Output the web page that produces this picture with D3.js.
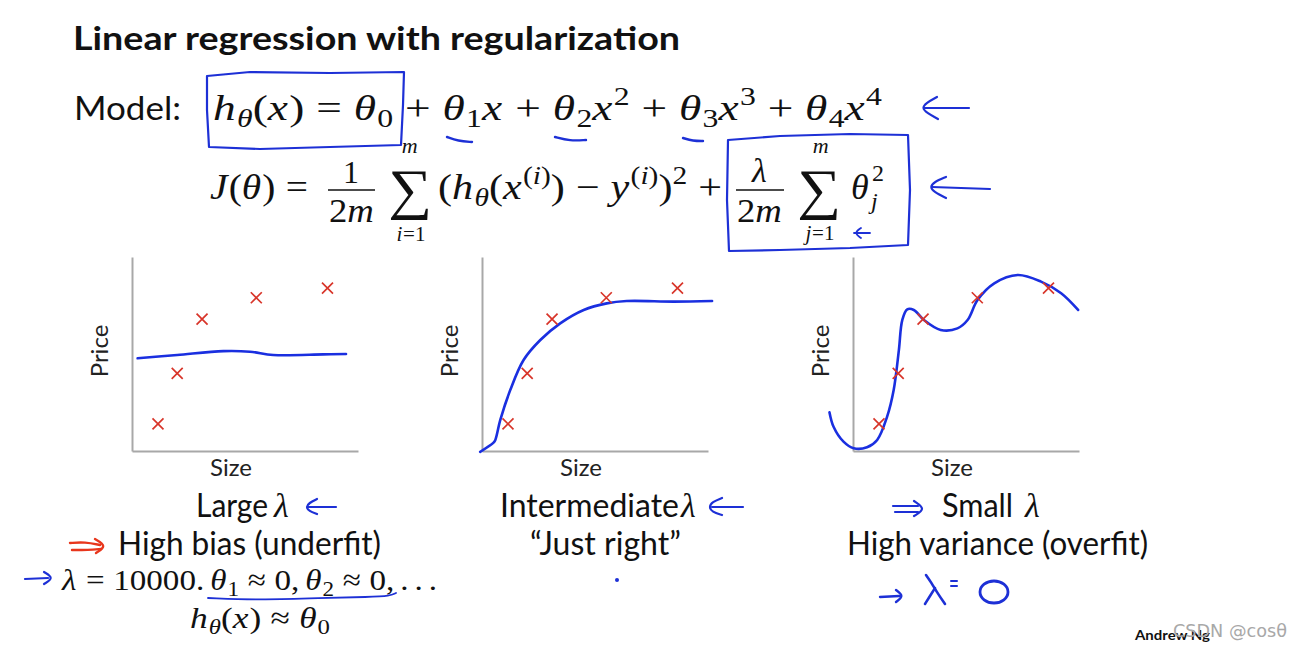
<!DOCTYPE html>
<html><head><meta charset="utf-8">
<script src="https://cdn.jsdelivr.net/npm/d3@7"></script>
<style>body{margin:0;background:#fff;} svg{display:block;}</style>
</head><body>
<svg id="c" width="1303" height="647"></svg>
<script>
// ---------------- data ----------------
const sizes  = [1.15, 2.0, 3.1, 5.5, 8.65];
const prices = [1.4, 4.0, 6.8, 7.9, 8.4];

const fitLargeSize  = [0.25, 2.0, 4.04, 5.22, 6.25, 8.46, 9.47];
const fitLargePrice = [4.78, 4.95, 5.15, 5.12, 4.95, 4.98, 5.0];

const fitMidSize  = [-0.08, 0.51, 0.59, 0.81, 1.25, 1.84, 2.58, 3.46, 4.5, 5.52, 6.4, 8.48, 10.18];
const fitMidPrice = [-0.04, 0.43, 0.57, 1.6, 3.14, 4.69, 5.72, 6.58, 7.27, 7.61, 7.73, 7.7, 7.73];

const fitSmallSize  = [-1.04, -0.86, -0.42, 0.03, 0.62, 1.07, 1.51, 1.8, 2.03, 2.18, 2.4, 2.69, 3.14, 3.88, 4.62, 5.07, 5.51, 6.25, 7.29, 8.32, 9.21, 9.96];
const fitSmallPrice = [1.99, 1.25, 0.48, 0.14, 0.19, 0.57, 1.77, 3.14, 5.2, 6.75, 7.3, 7.27, 6.75, 6.24, 6.32, 6.75, 7.78, 8.64, 9.07, 8.73, 8.13, 7.27];

const lambdaWords = ["Large", "Intermediate", "Small"];
const fitLabels = ["High bias (underfit)", "\u201CJust right\u201D", "High variance (overfit)"];
const xDomain = [0, 10];
const yDomain = [0, 10];
const xTicks = [];   // no tick labels on the sketches
const yTicks = [];

// ---------------- setup ----------------
const svg = d3.select('#c');
const ink = '#111';
const blue = '#1d30d6';
const red = '#d8352a';
const SANS = 'Lato, "Open Sans", sans-serif';
const SERIF = '"Liberation Serif", "DejaVu Serif", serif';

// ---------------- math layout helper ----------------
function parse(src){
  const out=[]; let i=0;
  const push=(ch,pos)=>out.push({ch, pos, it:/[A-Za-zθλ]/.test(ch)});
  while(i<src.length){
    const c=src[i];
    if(c==='_'||c==='^'){
      const pos=c==='_'?'sub':'sup'; i++;
      if(src[i]==='{'){ const j=src.indexOf('}',i); for(const ch of src.slice(i+1,j)) push(ch,pos); i=j+1; }
      else { push(src[i],pos); i++; }
    } else { push(c,null); i++; }
  }
  return out;
}
function mathRow(parent, x, y, src, size, opt={}){
  const g = parent.append('g').attr('font-family', SERIF).attr('fill', ink);
  const toks = parse(src);
  const pad = opt.pad===undefined ? 0.26 : opt.pad;
  let cx=0;
  toks.forEach((tk,k)=>{
    if(tk.ch===' '){ cx += 0.18*size; return; }
    const fs = tk.pos ? size*0.7 : size;
    const isOp = !tk.pos && /[=+−≈]/.test(tk.ch);
    if(isOp && k>0) cx += pad*size;
    const t = g.append('text').text(tk.ch).attr('x', cx)
      .attr('y', tk.pos==='sub' ? 0.2*size : tk.pos==='sup' ? -0.42*size : 0)
      .attr('font-size', fs).attr('font-style', tk.it ? 'italic' : 'normal');
    cx += t.node().getComputedTextLength();
    if(tk.it && !tk.pos) cx += 0.03*size;
    if(isOp && k<toks.length-1) cx += pad*size;
  });
  const sx = opt.width ? opt.width/cx : 1;
  const w = cx*sx;
  const x0 = opt.anchor==='middle' ? x - w/2 : x;
  g.attr('transform', `translate(${x0},${y}) scale(${sx},1)`);
  return g;
}
function sansText(x, y, str, size, opt={}){
  const t = svg.append('text').attr('x',x).attr('y',y).text(str)
    .attr('font-family', SANS).attr('font-size', size).attr('fill', opt.fill||ink)
    .attr('font-weight', opt.bold?'bold':'normal');
  if(opt.len) t.attr('textLength', opt.len).attr('lengthAdjust','spacingAndGlyphs');
  if(opt.anchor) t.attr('text-anchor', opt.anchor);
  return t;
}
function bigSigma(cx, baseline){
  svg.append('text').attr('x',cx).attr('y',baseline).text('\u2211')
    .attr('font-family', SERIF).attr('font-size', 56).attr('text-anchor','middle').attr('fill',ink)
    .attr('transform', `translate(${cx},0) scale(1.1,1) translate(${-cx},0)`);
}

// ---------------- title & formulas ----------------
sansText(73, 50, 'Linear regression with regularization', 33, {bold:true, len:607});
sansText(74, 120, 'Model:', 33, {len:107});

mathRow(svg, 213, 120, 'h_θ(x)=θ_0+θ_1x+θ_2x^2+θ_3x^3+θ_4x^4', 36, {width:669});

mathRow(svg, 210, 199, 'J(θ)=', 36, {width:98});
mathRow(svg, 351, 183, '1', 32, {anchor:'middle'});
svg.append('line').attr('x1',328).attr('x2',375).attr('y1',190).attr('y2',190).attr('stroke',ink).attr('stroke-width',1.6);
mathRow(svg, 352, 222, '2m', 34, {anchor:'middle', width:46});
bigSigma(410, 208);
mathRow(svg, 410, 153, 'm', 22, {anchor:'middle'});
mathRow(svg, 411, 241, 'i=1', 21, {anchor:'middle', pad:0});
mathRow(svg, 438, 199, '(h_θ(x^{(i)})−y^{(i)})^2+', 36, {width:284});

mathRow(svg, 760, 182, 'λ', 34, {anchor:'middle'});
svg.append('line').attr('x1',736).attr('x2',784).attr('y1',190).attr('y2',190).attr('stroke',ink).attr('stroke-width',1.6);
mathRow(svg, 760, 222, '2m', 34, {anchor:'middle', width:46});
bigSigma(819, 208);
mathRow(svg, 821, 153, 'm', 22, {anchor:'middle'});
mathRow(svg, 820, 240, 'j=1', 21, {anchor:'middle', pad:0});
mathRow(svg, 851, 199, 'θ', 36);
mathRow(svg, 872, 181, '2', 24);
mathRow(svg, 871, 209, 'j', 24);

// ---------------- the three sketches ----------------
const panelLeft = [132, 482, 853];
const panelTop = 257, panelW = 226, panelH = 194;
const fits = [
  d3.zip(fitLargeSize, fitLargePrice),
  d3.zip(fitMidSize, fitMidPrice),
  d3.zip(fitSmallSize, fitSmallPrice)
];
const pts = d3.zip(sizes, prices);

panelLeft.forEach((left, i)=>{
  const x = d3.scaleLinear().domain(xDomain).range([left, left+panelW]);
  const y = d3.scaleLinear().domain(yDomain).range([panelTop+panelH, panelTop]);
  const gx = svg.append('g').attr('transform',`translate(0,${panelTop+panelH})`)
    .call(d3.axisBottom(x).tickValues(xTicks).tickSizeOuter(0));
  const gy = svg.append('g').attr('transform',`translate(${left},0)`)
    .call(d3.axisLeft(y).tickValues(yTicks).tickSizeOuter(0));
  [gx, gy].forEach(g=>g.select('.domain').attr('stroke','#a8a8a8').attr('stroke-width',2));

  svg.append('text').attr('transform',`translate(${left-24},${panelTop+panelH/2-3}) rotate(-90)`)
    .attr('text-anchor','middle').attr('font-family',SANS).attr('font-size',24).attr('fill','#222').text('Price');
  svg.append('text').attr('x', left+panelW/2-14).attr('y', 476)
    .attr('text-anchor','middle').attr('font-family',SANS).attr('font-size',24).attr('fill','#222').text('Size');

  const line = d3.line().curve(d3.curveCatmullRom.alpha(0.5)).x(d=>x(d[0])).y(d=>y(d[1]));
  svg.append('path').attr('d', line(fits[i])).attr('fill','none').attr('stroke','#1a2fe0')
    .attr('stroke-width',2.6).attr('stroke-linecap','round').attr('stroke-linejoin','round');

  const s = 5.5;
  svg.append('g').selectAll('path').data(pts).join('path')
    .attr('d', d=>`M${x(d[0])-s},${y(d[1])-s}L${x(d[0])+s},${y(d[1])+s}M${x(d[0])-s},${y(d[1])+s}L${x(d[0])+s},${y(d[1])-s}`)
    .attr('stroke', red).attr('stroke-width',1.7).attr('fill','none');
});

// ---------------- captions ----------------
sansText(196, 517, lambdaWords[0], 32, {len:72});
mathRow(svg, 274, 517, 'λ', 34);
sansText(500, 517, lambdaWords[1], 32, {len:179});
mathRow(svg, 681, 517, 'λ', 34);
sansText(942, 517, lambdaWords[2], 32, {len:71});
mathRow(svg, 1025, 517, 'λ', 34);

sansText(118, 555, fitLabels[0], 32, {len:263});
sansText(530, 555, fitLabels[1], 32, {len:151});
sansText(847, 555, fitLabels[2], 32, {len:301});

mathRow(svg, 62, 590, 'λ=10000. θ_1≈0, θ_2≈0, . . .', 30, {width:375});
mathRow(svg, 190, 628, 'h_θ(x)≈θ_0', 30, {width:140});

sansText(1135, 640, 'Andrew Ng', 14, {bold:true, len:75});
svg.append('text').attr('x',1173).attr('y',637).text('CSDN @cosθ')
  .attr('font-family','"DejaVu Sans", sans-serif').attr('font-size',18).attr('fill','#a8a8a8')
  .attr('textLength',114).attr('lengthAdjust','spacingAndGlyphs');

// ---------------- hand-drawn annotations ----------------
const strokes = [
  {c:blue, w:2.2, lin:true, p:[[207,76],[250,72],[330,73],[404,72],[403,105],[401,145],[330,147],[260,149],[209,147],[207,110],[207,76]]},
  {c:blue, w:2.4, p:[[447,137],[458,141],[472,142]]},
  {c:blue, w:2.4, p:[[555,137],[570,141],[586,140]]},
  {c:blue, w:2.4, p:[[683,138],[693,141],[703,141]]},
  {c:blue, w:2.2, p:[[969,108],[924,108]]},
  {c:blue, w:2.2, p:[[937,97],[926,103],[922,108],[927,113],[938,119]]},
  {c:blue, w:2.2, lin:true, p:[[728,140],[780,136],[850,134],[908,135],[910,190],[908,245],[850,248],[780,250],[729,251],[727,200],[728,140]]},
  {c:blue, w:2.2, p:[[990,189],[932,187]]},
  {c:blue, w:2.2, p:[[946,177],[934,182],[930,187],[934,192],[946,198]]},
  {c:blue, w:1.8, p:[[870,233],[854,233]]},
  {c:blue, w:1.8, p:[[861,228],[854,233],[861,238]]},
  {c:blue, w:2.2, p:[[336,507],[308,507]]},
  {c:blue, w:2.2, p:[[317,499],[309,503],[306,507],[309,511],[317,514]]},
  {c:blue, w:2.2, p:[[743,507],[712,507]]},
  {c:blue, w:2.2, p:[[722,498],[712,502],[709,507],[712,512],[722,515]]},
  {c:'#e8361c', w:2.4, p:[[70,543],[85,542],[100,545]]},
  {c:'#e8361c', w:2.4, p:[[72,550],[88,550],[101,549]]},
  {c:'#e8361c', w:2.4, p:[[95,539],[107,546],[96,553]]},
  {c:blue, w:2.2, p:[[25,579],[48,578]]},
  {c:blue, w:2.2, p:[[44,572],[54,578],[44,584]]},
  {c:blue, w:1.8, p:[[208,598],[260,600],[320,598],[370,597],[390,596],[396,593]]},
  {c:blue, w:2.2, p:[[893,506],[918,506]]},
  {c:blue, w:2.2, p:[[895,512],[918,512]]},
  {c:blue, w:2.2, p:[[914,501],[926,509],[914,516]]},
  {c:blue, w:2.4, p:[[880,597],[899,596]]},
  {c:blue, w:2.4, p:[[896,590],[904,596],[896,602]]},
  {c:blue, w:2.6, p:[[926,575],[931,582],[938,594],[945,604]]},
  {c:blue, w:2.6, p:[[935,588],[930,596],[925,604]]},
  {c:blue, w:2, p:[[951,581],[957,581]]},
  {c:blue, w:2, p:[[951,586],[957,586]]}
];
const sk = d3.line().curve(d3.curveBasis);
const skLin = d3.line();
svg.append('g').selectAll('path').data(strokes).join('path')
  .attr('d', d=>(d.lin?skLin:sk)(d.p)).attr('fill','none').attr('stroke', d=>d.c).attr('stroke-width', d=>d.w)
  .attr('stroke-linecap','round').attr('stroke-linejoin','round');
svg.append('ellipse').attr('cx',994).attr('cy',592).attr('rx',14).attr('ry',11)
  .attr('fill','none').attr('stroke',blue).attr('stroke-width',2.8);
svg.append('circle').attr('cx',617).attr('cy',580).attr('r',2).attr('fill',blue);
</script>
</body></html>
